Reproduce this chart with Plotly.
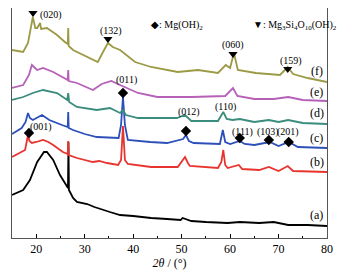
import plotly.graph_objects as go

# 2theta (deg) and intensity (a.u., offset) for each pattern
a_x = [15, 17.3, 18.7, 20.2, 21.6, 22.2, 23.5, 24.9, 26.3, 26.55, 26.65, 26.75, 27.6, 28.4, 30.5, 32, 35.2, 37.3, 40, 43.7, 47, 49.8, 50.2, 52, 55, 59.5, 62, 66, 69, 72, 76, 80]
a_y = [43, 48, 58, 76, 86, 86, 78, 63, 52, 50, 96, 48, 40, 36, 34, 31, 26, 23, 22, 20, 19, 18, 20, 17, 16, 15, 16, 15, 16, 13, 13, 12]

b_x = [15, 16.5, 17.7, 18.1, 18.3, 18.6, 19.1, 20, 21.4, 22.5, 23.5, 25.5, 26.5, 26.6, 26.7, 28.4, 31.7, 33, 34.6, 36.9, 37.5, 37.9, 38.3, 38.9, 41, 43.7, 49.2, 50.2, 50.7, 51.3, 51.7, 57.5, 58.2, 58.6, 59, 59.5, 61.8, 62.5, 66, 68, 70, 71.9, 73, 80]
b_y = [81, 85, 88, 98, 103, 97, 95, 96, 98, 96, 93, 86, 84, 97, 83, 80, 76, 77, 75, 73, 78, 112, 78, 74, 73, 71, 71, 77, 81, 75, 72, 70, 76, 88, 73, 70, 73, 69, 68, 71, 67, 72, 67, 66]

c_x = [15, 17, 17.8, 18.3, 18.7, 19.3, 21.2, 22.7, 25.3, 26.5, 26.6, 26.7, 27.6, 30, 32.5, 35.8, 37, 37.5, 37.9, 38.3, 38.9, 43.5, 47, 50.3, 50.9, 51.5, 52.5, 57.9, 58.5, 59, 60, 62, 63, 65, 68.2, 70, 72.1, 74, 80]
c_y = [104, 110, 116, 125, 120, 118, 123, 118, 113, 111, 126, 110, 108, 104, 101, 100, 100, 113, 141, 113, 98, 96, 95, 99, 103, 97, 95, 94, 108, 96, 94, 97, 94, 93, 96, 92, 96, 91, 90]

d_x = [15, 17.3, 19.3, 21.4, 24.3, 26.4, 26.6, 26.8, 28.4, 32.5, 35.2, 37.3, 37.9, 38.5, 41, 49, 50.7, 52, 57.5, 58.6, 59.3, 60.5, 62, 65, 68, 70, 72, 75, 80]
d_y = [138, 141, 145, 148, 145, 138, 145, 136, 131, 128, 130, 125, 128, 123, 120, 120, 123, 117, 117, 126, 119, 118, 119, 116, 118, 116, 118, 115, 114]

e_x = [15, 17.3, 18.5, 19.1, 20.2, 21.4, 23.5, 25.9, 26.5, 26.6, 26.7, 28.4, 31.7, 33.5, 34.6, 35.5, 37.3, 41, 45, 52, 59, 60.6, 61.5, 65, 69, 72, 75, 80]
e_y = [150, 153, 163, 173, 168, 170, 166, 160, 158, 168, 157, 155, 148, 154, 156, 157, 153, 145, 141, 141, 142, 150, 142, 139, 139, 141, 138, 137]

f_x = [15, 17.3, 18.3, 18.9, 19.3, 19.8, 20.2, 20.8, 21, 22.2, 24.3, 25.9, 26.5, 26.6, 26.7, 27.6, 30.5, 32.7, 34, 34.8, 35.8, 37.3, 40.4, 43.7, 49.2, 53.4, 57.5, 59.1, 60, 60.8, 61.6, 65.3, 70.3, 71.9, 73, 76, 80]
f_y = [188, 186, 195, 210, 221, 210, 210, 215, 209, 210, 203, 196, 194, 210, 192, 188, 181, 176, 188, 195, 191, 188, 176, 171, 166, 168, 165, 173, 170, 185, 168, 165, 163, 171, 164, 160, 156]

series_names = ["(a)", "(b)", "(c)", "(d)", "(e)", "(f)"]
series_colors = ["#000000", "#e8342e", "#2c4fb8", "#3a8c7c", "#b660b8", "#9c9a45"]

# phase reflections: Mg(OH)2 (diamond) and Mg3Si4O10(OH)2 (triangle)
mg_labels = ["(001)", "(011)", "(012)", "(111)", "(103)", "(201)"]
mg_pos_x = [18.5, 37.9, 50.9, 62.0, 68.0, 72.1]
mg_pos_y = [105, 145, 107, 100, 98, 96]
tal_labels = ["(020)", "(132)", "(060)", "(159)"]
tal_pos_x = [19.33, 34.8, 60.6, 71.9]
tal_pos_y = [225, 199, 184, 169]

x_ticks = [20, 30, 40, 50, 60, 70, 80]

FONT = "Liberation Serif, Times New Roman, serif"

fig = go.Figure()
for xs, ys, nm, col in zip([a_x, b_x, c_x, d_x, e_x, f_x], [a_y, b_y, c_y, d_y, e_y, f_y], series_names, series_colors):
    fig.add_trace(go.Scatter(x=xs, y=ys, mode="lines", name=nm,
                             line=dict(color=col, width=1.8), showlegend=False))

fig.add_trace(go.Scatter(x=mg_pos_x, y=mg_pos_y, mode="markers",
                         marker=dict(symbol="diamond", size=8, color="black"), showlegend=False))
fig.add_trace(go.Scatter(x=tal_pos_x, y=tal_pos_y, mode="markers",
                         marker=dict(symbol="triangle-down", size=8, color="black"), showlegend=False))

ann = []
def txt(x, y, t, anchor="center", size=10):
    ann.append(dict(x=x, y=y, text=t, showarrow=False, xanchor=anchor, yanchor="middle",
                    font=dict(family=FONT, size=size, color="black")))

# reflection labels
txt(20.4, 223, "(020)", "left")
txt(35.4, 207, "(132)")
txt(60.6, 193, "(060)")
txt(72.5, 177, "(159)")
txt(21.0, 111, "(001)")
txt(38.7, 158, "(011)")
txt(51.5, 126, "(012)")
txt(59.1, 131, "(110)")
txt(62.6, 106, "(111)")
txt(67.8, 106, "(103)")
txt(71.9, 106, "(201)")

# curve labels
for nm, yv in zip(series_names, [23, 76, 100, 125, 146, 167]):
    txt(77.9, yv, nm, "center", 12)

# phase key
txt(43.3, 213, "◆: Mg(OH)<sub>2</sub>", "left")
txt(64.3, 213, "▼: Mg<sub>3</sub>Si<sub>4</sub>O<sub>10</sub>(OH)<sub>2</sub>", "left")

# the page body adds an 8px offset, so the figure is 8px smaller and margins shifted
fig.update_layout(
    width=338, height=262,
    margin=dict(l=4, r=19, t=0, b=32),
    paper_bgcolor="white", plot_bgcolor="white",
    font=dict(family=FONT, size=11, color="black"),
    annotations=ann,
    xaxis=dict(range=[15, 80], tickvals=x_ticks, ticks="inside", ticklen=4, tickcolor="black",
               showline=True, linecolor="#555", linewidth=1, mirror=True, showgrid=False, zeroline=False,
               minor=dict(dtick=5, tick0=15, ticks="inside", ticklen=2, tickcolor="black", showgrid=False),
               title=dict(text="<i>2θ</i> / (°)", font=dict(family=FONT, size=12), standoff=2),
               tickfont=dict(family=FONT, size=12)),
    yaxis=dict(range=[0, 230], showticklabels=False, ticks="", showline=True, linecolor="#555",
               linewidth=1, mirror=True, showgrid=False, zeroline=False),
)

fig.write_html("out.html")
